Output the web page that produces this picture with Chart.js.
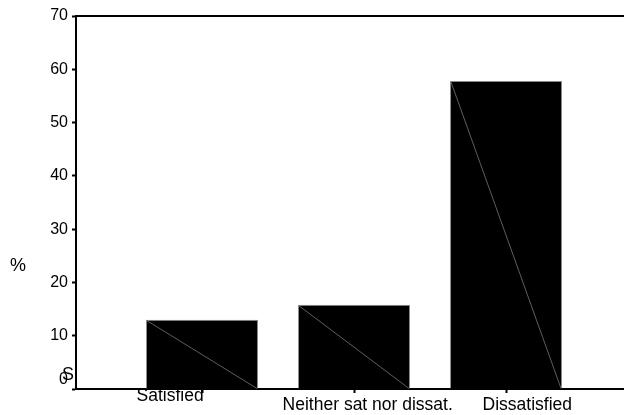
<!DOCTYPE html>
<html><head><meta charset="utf-8">
<script src="https://cdn.jsdelivr.net/npm/chart.js@4/dist/chart.umd.min.js"></script>
<style>html,body{margin:0;padding:0;background:#fff}#wrap{width:624px;height:415px}</style>
</head><body><div id="wrap"><canvas id="c" width="624" height="415"></canvas></div>
<script>
const categories = ['Satisfied', 'Neither sat nor dissat.', 'Dissatisfied'];
const percentValues = [13.0, 15.8, 57.8];
const yTickValues = [0, 10, 20, 30, 40, 50, 60, 70];
const yAxisTitle = '%';
const strayLabel = 'S';

const FONT = "'Liberation Sans', Arial, sans-serif";
// horizontal nudge of each category label, in category units (layout only)
const labelNudge = [-0.21, 0.09, 0.14];

const decorPlugin = {
  id: 'decor',
  afterDatasetsDraw(chart) {
    const ctx = chart.ctx;
    const meta = chart.getDatasetMeta(0);
    ctx.save();
    ctx.strokeStyle = '#5e5e5e';
    ctx.lineWidth = 1;
    meta.data.forEach(el => {
      const p = el.getProps(['x', 'y', 'width', 'base'], true);
      ctx.beginPath();
      ctx.moveTo(p.x - p.width / 2 + 1, p.y + 1);
      ctx.lineTo(p.x + p.width / 2 - 1, p.base);
      ctx.stroke();
    });
    ctx.restore();
  },
  afterDraw(chart) {
    const ctx = chart.ctx;
    const ys = chart.scales.y;
    ctx.save();
    ctx.fillStyle = '#000';
    ctx.textAlign = 'center';
    ctx.textBaseline = 'middle';
    ctx.font = "18px " + FONT;
    ctx.fillText(yAxisTitle, 18, ys.getPixelForValue(23));
    ctx.font = "18px " + FONT;
    ctx.fillText(strayLabel, 68, ys.getPixelForValue(2.7));
    ctx.restore();
  }
};

const X_MIN = 0.171, X_MAX = 3.776;

const chart = new Chart(document.getElementById('c'), {
  type: 'bar',
  data: {
    datasets: [{
      data: categories.map((c, i) => ({ x: i + 1, y: percentValues[i] })),
      backgroundColor: '#000000',
      borderColor: '#8c8c8c',
      borderWidth: 1,
      categoryPercentage: 1,
      barPercentage: 0.737
    }]
  },
  options: {
    responsive: false,
    animation: false,
    devicePixelRatio: 1,
    layout: { padding: { top: 16, left: 0, right: 0, bottom: 0 } },
    plugins: { legend: { display: false }, tooltip: { enabled: false } },
    scales: {
      x: {
        type: 'linear',
        position: 'bottom',
        weight: 0,
        offset: false,
        min: X_MIN,
        max: X_MAX,
        afterBuildTicks: s => { s.ticks = categories.map((c, i) => ({ value: i + 1 })); },
        afterFit: s => { s.height = 0; },
        ticks: { display: false },
        grid: { offset: false, drawOnChartArea: false, tickLength: 4, tickWidth: 2, tickColor: '#000' },
        border: { color: '#000', width: 2 }
      },
      xl: {
        type: 'linear',
        position: 'bottom',
        weight: 1,
        offset: false,
        min: X_MIN,
        max: X_MAX,
        afterBuildTicks: s => { s.ticks = categories.map((c, i) => ({ value: i + 1 + labelNudge[i] })); },
        afterFit: s => { s.height = 26; },
        ticks: {
          autoSkip: false,
          maxRotation: 0,
          padding: 0,
          color: '#000',
          callback: (v, i) => categories[i] ?? '',
          font: ctx => ({ family: FONT, size: 17.5, lineHeight: ctx.index === 0 ? '14px' : '32px' })
        },
        grid: { offset: false, drawOnChartArea: false, drawTicks: false },
        border: { display: false }
      },
      x2: {
        type: 'linear',
        position: 'top',
        min: 0, max: 1,
        afterFit: s => { s.height = 0; },
        ticks: { display: false },
        grid: { drawOnChartArea: false, drawTicks: false },
        border: { color: '#000', width: 2 }
      },
      y: {
        min: 0,
        max: 70,
        afterBuildTicks: s => { s.ticks = yTickValues.map(v => ({ value: v })); },
        afterFit: s => { s.width = 76; },
        ticks: {
          padding: 4,
          color: '#000',
          callback: v => (v === 0 ? ['0', ''] : String(v)),
          font: ctx => ({ family: FONT, size: 16, lineHeight: ctx.index === 0 ? '18px' : 1.2 })
        },
        grid: { drawOnChartArea: false, tickLength: 4, tickWidth: 2, tickColor: '#000' },
        border: { color: '#000', width: 2 }
      }
    }
  },
  plugins: [decorPlugin]
});
</script>
</body></html>
